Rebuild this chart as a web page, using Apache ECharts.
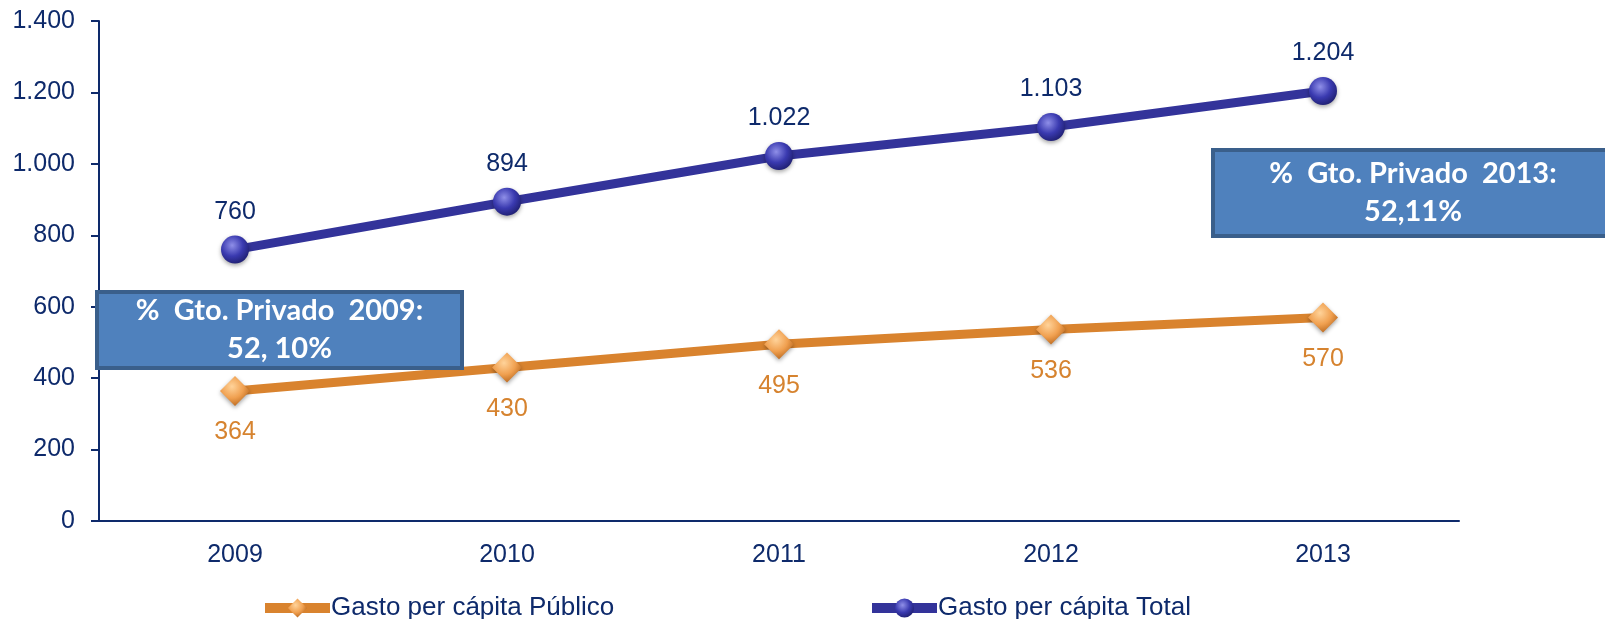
<!DOCTYPE html>
<html><head><meta charset="utf-8">
<script src="https://cdn.jsdelivr.net/npm/echarts@6/dist/echarts.min.js"></script>
<style>html,body{margin:0;padding:0;background:#fff}#c{width:1605px;height:619px}</style>
</head><body><div id="c"></div>
<script>
const categories = ['2009','2010','2011','2012','2013'];
const publico = [364, 430, 495, 536, 570];
const total = [760, 894, 1022, 1103, 1204];
const seriesNames = ['Gasto per cápita Público', 'Gasto per cápita Total'];
const boxTexts = [['%  Gto. Privado  2009:', '52, 10%'], ['%  Gto. Privado  2013:', '52,11%']];

const navy = '#0E2A6B';
const fmt = v => String(v).replace(/\B(?=(\d{3})+(?!\d))/g, '.');
const sphere = (c0, c1, c2) => ({type:'radial', x:0.4, y:0.35, r:0.7, colorStops:[{offset:0,color:c0},{offset:0.55,color:c1},{offset:1,color:c2}]});

const chart = echarts.init(document.getElementById('c'));
function box(x, y, w, h, lines) {
  return {
    type:'group', x:x, y:y, children:[
      {type:'rect', shape:{x:0,y:0,width:w,height:h}, style:{fill:'#4F81BD', stroke:'#3A5F8B', lineWidth:4}, z:10},
      {type:'text', style:{x:w/2, y:h/2, text:lines.join('\n'), fill:'#fff', font:'bold 29px Lato', align:'center', verticalAlign:'middle', lineHeight:38}, z:11}
    ]
  };
}
const legendCommon = {itemWidth:65, itemHeight:24, itemGap:0, top:590,
  lineStyle:{width:10},
  textStyle:{color:navy, fontSize:26, fontFamily:'Liberation Sans', padding:[0,0,0,-4]}};
chart.setOption({
  animation:false,
  grid:{left:99, right:146, top:21, bottom:98},
  xAxis:{type:'category', data:categories, boundaryGap:true,
    axisLine:{lineStyle:{color:navy, width:2}},
    axisTick:{length:7, lineStyle:{color:navy, width:2}},
    axisLabel:{color:navy, fontSize:25, fontFamily:'Liberation Sans', margin:22}},
  yAxis:{type:'value', min:0, max:1400, interval:200,
    axisLine:{show:true, lineStyle:{color:navy, width:2}},
    axisTick:{show:true, length:8, lineStyle:{color:navy, width:2}},
    splitLine:{show:false},
    axisLabel:{color:navy, fontSize:25, fontFamily:'Liberation Sans', margin:24, formatter:fmt}},
  legend:[
    Object.assign({data:[seriesNames[0]], left:255}, legendCommon),
    Object.assign({data:[seriesNames[1]], left:862}, legendCommon)
  ],
  series:[
    {name:seriesNames[0], type:'line', data:publico, symbol:'diamond', symbolSize:[30,30],
     lineStyle:{color:'#D9832E', width:9}, itemStyle:{color:sphere('#FFD39A','#F0A050','#B8661C'), shadowBlur:4, shadowColor:'rgba(0,0,0,0.35)', shadowOffsetY:2},
     label:{show:true, position:'bottom', distance:14, color:'#D6832F', fontSize:25, fontFamily:'Liberation Sans'}},
    {name:seriesNames[1], type:'line', data:total, symbol:'circle', symbolSize:28,
     lineStyle:{color:'#33339A', width:9}, itemStyle:{color:sphere('#8F8FE8','#3A3AB0','#1E1E6E'), shadowBlur:4, shadowColor:'rgba(0,0,0,0.35)', shadowOffsetY:2},
     label:{show:true, position:'top', distance:11, color:navy, fontSize:25, fontFamily:'Liberation Sans', formatter:p=>fmt(p.value)}}
  ],
  graphic:[
    box(97, 292, 365, 76, boxTexts[0]),
    box(1213, 150, 400, 86, boxTexts[1])
  ]
});
</script></body></html>
